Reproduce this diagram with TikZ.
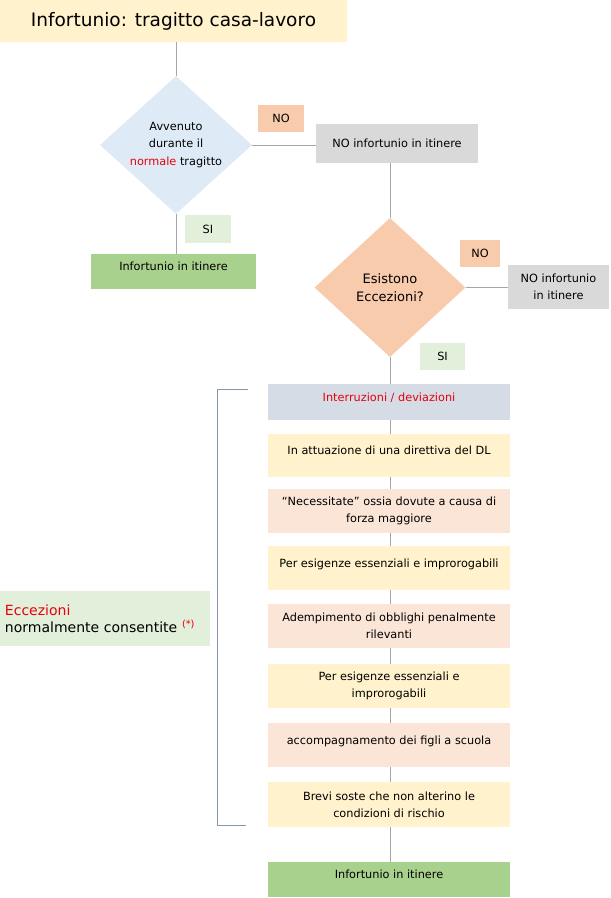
\documentclass[tikz,border=0pt]{standalone}
\usepackage{fontspec}
\setmainfont{DejaVu Sans}
\usetikzlibrary{shapes.geometric,backgrounds}

\definecolor{titlefill}{HTML}{FFF2CC}
\definecolor{bluefill}{HTML}{DEEBF7}
\definecolor{salmon}{HTML}{F8CBAD}
\definecolor{greyfill}{HTML}{D9D9D9}
\definecolor{greenfill}{HTML}{A9D18E}
\definecolor{sifill}{HTML}{E2EFDA}
\definecolor{peach}{HTML}{FBE5D6}
\definecolor{slate}{HTML}{D6DCE5}
\definecolor{linegrey}{HTML}{A6A6A6}
\definecolor{bracketblue}{HTML}{8497B0}
\definecolor{txtred}{HTML}{E8000B}

\tikzset{
  box/.style={rectangle, inner sep=2pt, align=center, font=\fontsize{11.3}{17}\selectfont},
  listbox/.style={box, minimum width=242, minimum height=44},
  raised/.style={text depth=10pt},
  tagbox/.style={box, fill=salmon, minimum height=27},
  sibox/.style={box, fill=sifill, minimum height=27},
  decision/.style={diamond, inner sep=0pt, align=center, font=\fontsize{11.3}{17.5}\selectfont},
  link/.style={draw=linegrey, line width=0.8pt}
}

\begin{document}
\begin{tikzpicture}[x=1pt, y=-1pt]

    % Fix the page size
    \useasboundingbox (0,0) rectangle (611,898);

    % Title and first question
    \node[box, fill=titlefill, minimum width=347, minimum height=42, font=\fontsize{18.5}{22}\selectfont] (title) at (173.5,21) {Infortunio: tragitto casa-lavoro};
    \node[decision, fill=bluefill, minimum width=152, minimum height=137] (normale) at (176,145) {Avvenuto\\durante il\\{\color{txtred}normale} tragitto};

    % Branches of the first question
    \node[tagbox, minimum width=46] (no1) at (281,118.5) {NO};
    \node[box, fill=greyfill, minimum width=162, minimum height=39] (noit1) at (397,143.5) {NO infortunio in itinere};
    \node[sibox, minimum width=46, minimum height=28] (si1) at (208,229) {SI};
    \node[box, raised, fill=greenfill, minimum width=165, minimum height=35] (yes1) at (173.5,271.5) {Infortunio in itinere};

    % Second question
    \node[decision, fill=salmon, minimum width=151, minimum height=139, font=\fontsize{13}{18}\selectfont] (eccezioni) at (390,287.5) {Esistono\\Eccezioni?};
    \node[tagbox, minimum width=40] (no2) at (480,253.5) {NO};
    \node[box, fill=greyfill, minimum width=101, minimum height=44] (noit2) at (558.5,287) {NO infortunio\\in itinere};
    \node[sibox, minimum width=45] (si2) at (442.5,356.5) {SI};

    % List of the exceptions
    \node[listbox, raised, fill=slate, minimum height=36] (l0) at (389,402) {\color{txtred}Interruzioni / deviazioni};
    \node[listbox, raised, fill=titlefill, minimum height=43] (l1) at (389,455.5) {In attuazione di una direttiva del DL};
    \node[listbox, fill=peach] (l2) at (389,511) {``Necessitate'' ossia dovute a causa di\\forza maggiore};
    \node[listbox, raised, fill=titlefill] (l3) at (389,568) {Per esigenze essenziali e improrogabili};
    \node[listbox, fill=peach] (l4) at (389,626) {Adempimento di obblighi penalmente\\rilevanti};
    \node[listbox, fill=titlefill] (l5) at (389,686) {Per esigenze essenziali e\\improrogabili};
    \node[listbox, raised, fill=peach] (l6) at (389,745) {accompagnamento dei figli a scuola};
    \node[listbox, fill=titlefill, minimum height=45] (l7) at (389,804.5) {Brevi soste che non alterino le\\condizioni di rischio};
    \node[listbox, raised, fill=greenfill, minimum height=35] (fine) at (389,879.5) {Infortunio in itinere};

    % Side label and its bracket
    \node[box, fill=sifill, minimum width=210, minimum height=55, text width=200, align=left, font=\fontsize{14}{17}\selectfont] (side) at (105,618.5) {{\color{txtred}Eccezioni}\\normalmente consentite {\color{txtred}\textsuperscript{(*)}}};
    \coordinate (bt) at (248,389);
    \coordinate (bb) at (246,825);
    \draw[bracketblue, line width=0.8pt] (bt) -- ++(-31,0) |- (bb);

    % Connectors behind the boxes
    \begin{scope}[on background layer]
        \draw[link] (title.south -| normale.north) -- (normale.north);
        \draw[link] (normale.east) -- (noit1.west |- normale.east);
        \draw[link] (normale.south) -- (normale.south |- yes1.north);
        \draw[link] (eccezioni.north |- noit1.south) -- (eccezioni.north);
        \draw[link] (eccezioni.east) -- (noit2.west |- eccezioni.east);
        \draw[link] (eccezioni.south) -- (eccezioni.south |- fine.north);
    \end{scope}

\end{tikzpicture}
\end{document}
